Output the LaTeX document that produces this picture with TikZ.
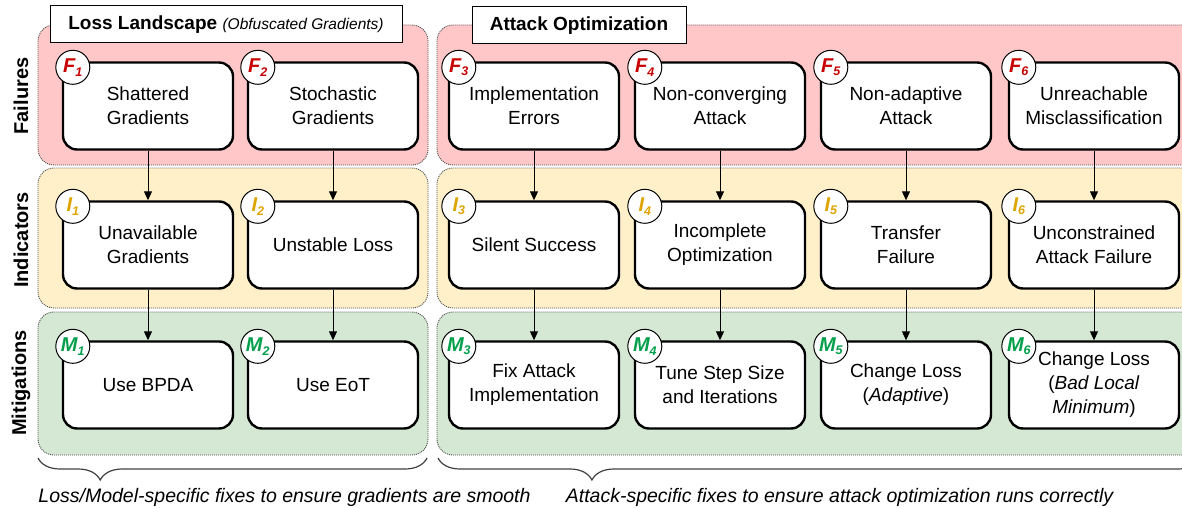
\documentclass[tikz,border=0pt]{standalone}
\usepackage{fontspec}
\setmainfont{Liberation Sans}
\usetikzlibrary{arrows.meta,decorations.pathreplacing}
\definecolor{failpink}{RGB}{255,199,199}
\definecolor{indyellow}{RGB}{255,240,201}
\definecolor{mitgreen}{RGB}{213,232,212}
\definecolor{failred}{RGB}{200,0,0}
\definecolor{indgold}{RGB}{222,165,0}
\definecolor{mitgreentext}{RGB}{0,160,75}
\newcommand{\badgelabel}[3]{\textcolor{#1}{\bfseries\itshape #2\raisebox{-0.35ex}{\fontsize{12.5}{12.5}\selectfont #3}}}
\newcommand{\failtag}[1]{\badgelabel{failred}{F}{#1}}
\newcommand{\indtag}[1]{\badgelabel{indgold}{I}{#1}}
\newcommand{\mittag}[1]{\badgelabel{mitgreentext}{M}{#1}}

\begin{document}
\begin{tikzpicture}[x=1pt,y=-1pt,
    band/.style={draw=black!70, dash pattern=on 1pt off 1pt, line width=0.9pt, rounded corners=16pt},
    box/.style={draw, fill=white, line width=2.4pt, rounded corners=14pt,
      minimum width=170pt, minimum height=87pt, align=center, font=\fontsize{19}{24}\selectfont},
    badge/.style={circle, draw, fill=white, line width=1pt, minimum size=34pt, inner sep=0pt,
      font=\fontsize{20}{20}\selectfont},
    rowlabel/.style={rotate=90, font=\fontsize{20}{24}\selectfont\bfseries},
    titlebox/.style={draw, fill=white, line width=1pt, minimum height=37pt, inner sep=0pt,
      font=\fontsize{19}{23}\selectfont\bfseries},
    arr/.style={-{Triangle[length=9pt,width=8pt]}, line width=1pt},
    bracket/.style={decorate, line width=1.2pt, draw=black!75},
    caption/.style={font=\fontsize{19.5}{23}\selectfont\itshape}]
  \useasboundingbox (0,0) rectangle (1182,508);
  \clip (0,0) rectangle (1182,508);

  % background bands
  \draw [band, fill=failpink] (38,25) rectangle (428,165);
  \draw [band, fill=indyellow] (38,168) rectangle (428,308);
  \draw [band, fill=mitgreen] (38,312) rectangle (428,455);
  \draw [band, fill=failpink] (437,25) rectangle (1200,165);
  \draw [band, fill=indyellow] (437,168) rectangle (1200,308);
  \draw [band, fill=mitgreen] (437,312) rectangle (1200,455);

  % panel titles
  \node [titlebox, minimum width=352pt] (titleL) at (226,24.5)
    {Loss Landscape {\fontsize{15.5}{18}\selectfont\mdseries\itshape (Obfuscated Gradients)}};
  \node [titlebox, minimum width=214pt] (titleR) at (579,25.5) {Attack Optimization};

  % row labels
  \node [rowlabel] (rowF) at (21,96) {Failures};
  \node [rowlabel] (rowI) at (21,240) {Indicators};
  \node [rowlabel] (rowM) at (21,383) {Mitigations};

  % failures
  \node [box] (F1) at (148,106) {Shattered\\Gradients};
  \node [box] (F2) at (333,106) {Stochastic\\Gradients};
  \node [box] (F3) at (534,106) {Implementation\\Errors};
  \node [box] (F4) at (720,106) {Non-converging\\Attack};
  \node [box] (F5) at (906,106) {Non-adaptive\\Attack};
  \node [box] (F6) at (1094,106) {Unreachable\\Misclassification};

  % indicators
  \node [box] (I1) at (148,245) {Unavailable\\Gradients};
  \node [box] (I2) at (333,245) {Unstable Loss};
  \node [box] (I3) at (534,245) {Silent Success};
  \node [box] (I4) at (720,245) {Incomplete\\Optimization};
  \node [box] (I5) at (906,245) {Transfer\\Failure};
  \node [box] (I6) at (1094,245) {Unconstrained\\Attack Failure};

  % mitigations
  \node [box] (M1) at (148,385) {Use BPDA};
  \node [box] (M2) at (333,385) {Use EoT};
  \node [box] (M3) at (534,385) {Fix Attack\\Implementation};
  \node [box] (M4) at (720,385) {Tune Step Size\\and Iterations};
  \node [box] (M5) at (906,385) {Change Loss\\(\textit{Adaptive})};
  \node [box] (M6) at (1094,385) {Change Loss\\(\textit{Bad Local}\\\textit{Minimum})};

  % badges
  \node [badge] (bF1) at ([shift={(11,6)}]F1.north west) {\failtag{1}};
  \node [badge] (bF2) at ([shift={(11,6)}]F2.north west) {\failtag{2}};
  \node [badge] (bF3) at ([shift={(11,6)}]F3.north west) {\failtag{3}};
  \node [badge] (bF4) at ([shift={(11,6)}]F4.north west) {\failtag{4}};
  \node [badge] (bF5) at ([shift={(11,6)}]F5.north west) {\failtag{5}};
  \node [badge] (bF6) at ([shift={(11,6)}]F6.north west) {\failtag{6}};
  \node [badge] (bI1) at ([shift={(11,6)}]I1.north west) {\indtag{1}};
  \node [badge] (bI2) at ([shift={(11,6)}]I2.north west) {\indtag{2}};
  \node [badge] (bI3) at ([shift={(11,6)}]I3.north west) {\indtag{3}};
  \node [badge] (bI4) at ([shift={(11,6)}]I4.north west) {\indtag{4}};
  \node [badge] (bI5) at ([shift={(11,6)}]I5.north west) {\indtag{5}};
  \node [badge] (bI6) at ([shift={(11,6)}]I6.north west) {\indtag{6}};
  \node [badge] (bM1) at ([shift={(11,6)}]M1.north west) {\mittag{1}};
  \node [badge] (bM2) at ([shift={(11,6)}]M2.north west) {\mittag{2}};
  \node [badge] (bM3) at ([shift={(11,6)}]M3.north west) {\mittag{3}};
  \node [badge] (bM4) at ([shift={(11,6)}]M4.north west) {\mittag{4}};
  \node [badge] (bM5) at ([shift={(11,6)}]M5.north west) {\mittag{5}};
  \node [badge] (bM6) at ([shift={(11,6)}]M6.north west) {\mittag{6}};

  % failure -> indicator -> mitigation
  \draw [arr] (F1) -- (I1);
  \draw [arr] (F2) -- (I2);
  \draw [arr] (F3) -- (I3);
  \draw [arr] (F4) -- (I4);
  \draw [arr] (F5) -- (I5);
  \draw [arr] (F6) -- (I6);
  \draw [arr] (I1) -- (M1);
  \draw [arr] (I2) -- (M2);
  \draw [arr] (I3) -- (M3);
  \draw [arr] (I4) -- (M4);
  \draw [arr] (I5) -- (M5);
  \draw [arr] (I6) -- (M6);

  % braces and captions
  \coordinate (lossA) at (38,458);
  \coordinate (lossB) at (427,458);
  \coordinate (attA) at (438,458);
  \coordinate (attB) at (1200,458);
  \draw [bracket, decoration={brace, mirror, amplitude=22pt, aspect=0.16}] (lossA) -- (lossB);
  \draw [bracket, decoration={brace, mirror, amplitude=22pt, aspect=0.202}] (attA) -- (attB);
  \node [caption] (capL) at (284.5,497) {Loss/Model-specific fixes to ensure gradients are smooth};
  \node [caption] (capR) at (839.5,497) {Attack-specific fixes to ensure attack optimization runs correctly};
\end{tikzpicture}
\end{document}
